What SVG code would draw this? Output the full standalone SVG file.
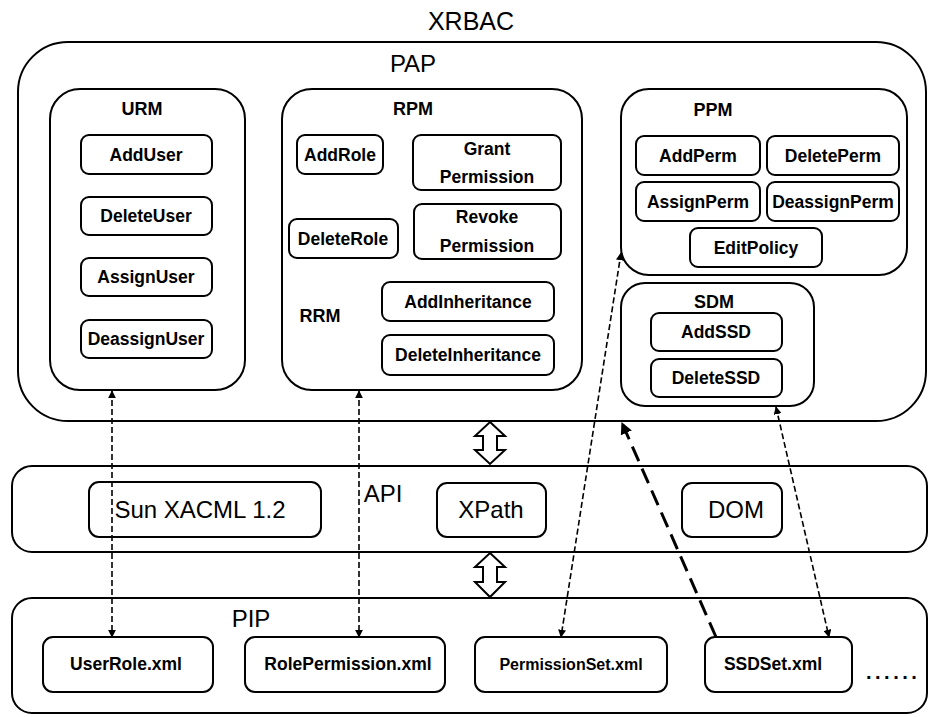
<svg xmlns="http://www.w3.org/2000/svg" width="928" height="717" viewBox="0 0 928 717">
<defs>
<style>
.big{fill:none;stroke:#000;stroke-width:2}
.mod{fill:#fff;stroke:#000;stroke-width:2}
.box{fill:#fff;stroke:#000;stroke-width:2}
.t{font-family:"Liberation Sans",Arial,sans-serif;font-weight:bold;font-size:17.5px;text-anchor:middle;fill:#000}
.h{font-family:"Liberation Sans",Arial,sans-serif;font-weight:bold;font-size:18px;text-anchor:middle;fill:#000}
.n{font-family:"Liberation Sans",Arial,sans-serif;font-size:24px;text-anchor:middle;fill:#000}
.dash{fill:none;stroke:#000;stroke-width:1.6;stroke-dasharray:6 3}
.ldash{fill:none;stroke:#000;stroke-width:3;stroke-dasharray:16 8}
.hollow{fill:#fff;stroke:#000;stroke-width:2;stroke-linejoin:miter}
</style>
<marker id="ah" viewBox="0 0 10 10" refX="9" refY="5" markerWidth="8" markerHeight="8" markerUnits="userSpaceOnUse" orient="auto-start-reverse">
<path d="M0,0 L10,5 L0,10 z" fill="#000"/>
</marker>
<marker id="ahL" viewBox="0 0 10 10" refX="9" refY="5" markerWidth="12" markerHeight="12" markerUnits="userSpaceOnUse" orient="auto-start-reverse">
<path d="M0,0 L10,5 L0,10 z" fill="#000"/>
</marker>
</defs>
<rect width="928" height="717" fill="#fff"/>

<text class="n" x="471" y="30" style="font-size:25px">XRBAC</text>

<g id="PAP">
<rect class="big" x="18" y="42" width="908" height="379" rx="50"/>
<text class="n" x="413" y="72">PAP</text>
</g>

<g id="URM">
<rect class="mod" x="50" y="89" width="195" height="301" rx="30"/>
<text class="h" x="142" y="115">URM</text>
</g>
<g id="AddUser"><rect class="box" x="81" y="135" width="131" height="39" rx="8"/><text class="t" x="146" y="161">AddUser</text></g>
<g id="DeleteUser"><rect class="box" x="81" y="197" width="131" height="38" rx="8"/><text class="t" x="146" y="222">DeleteUser</text></g>
<g id="AssignUser"><rect class="box" x="81" y="258" width="131" height="38" rx="8"/><text class="t" x="146" y="283">AssignUser</text></g>
<g id="DeassignUser"><rect class="box" x="81" y="320" width="131" height="38" rx="8"/><text class="t" x="146" y="345">DeassignUser</text></g>

<g id="RPM">
<rect class="mod" x="282" y="89" width="300" height="301" rx="30"/>
<text class="h" x="413" y="115">RPM</text>
<text class="h" x="320" y="322">RRM</text>
</g>
<g id="AddRole"><rect class="box" x="297" y="135" width="86" height="39" rx="8"/><text class="t" x="340" y="161">AddRole</text></g>
<g id="GrantPermission"><rect class="box" x="413" y="135" width="148" height="55" rx="8"/><text class="t" x="487" y="155">Grant</text><text class="t" x="487" y="183">Permission</text></g>
<g id="DeleteRole"><rect class="box" x="289" y="219" width="109" height="39" rx="8"/><text class="t" x="343" y="245">DeleteRole</text></g>
<g id="RevokePermission"><rect class="box" x="414" y="204" width="147" height="55" rx="8"/><text class="t" x="487" y="223">Revoke</text><text class="t" x="487" y="252">Permission</text></g>
<g id="AddInheritance"><rect class="box" x="382" y="282" width="172" height="39" rx="8"/><text class="t" x="468" y="308">AddInheritance</text></g>
<g id="DeleteInheritance"><rect class="box" x="382" y="335" width="172" height="40" rx="8"/><text class="t" x="468" y="361">DeleteInheritance</text></g>

<g id="PPM">
<rect class="mod" x="621" y="89" width="286" height="186" rx="28"/>
<text class="h" x="713" y="116">PPM</text>
</g>
<g id="AddPerm"><rect class="box" x="636" y="136" width="124" height="39" rx="8"/><text class="t" x="698" y="162">AddPerm</text></g>
<g id="DeletePerm"><rect class="box" x="767" y="136" width="132" height="39" rx="8"/><text class="t" x="833" y="162">DeletePerm</text></g>
<g id="AssignPerm"><rect class="box" x="636" y="182" width="124" height="39" rx="8"/><text class="t" x="698" y="208">AssignPerm</text></g>
<g id="DeassignPerm"><rect class="box" x="767" y="182" width="132" height="39" rx="8"/><text class="t" x="833" y="208">DeassignPerm</text></g>
<g id="EditPolicy"><rect class="box" x="690" y="228" width="132" height="39" rx="8"/><text class="t" x="756" y="254">EditPolicy</text></g>

<g id="SDM">
<rect class="mod" x="621" y="283" width="193" height="123" rx="24"/>
<text class="h" x="714" y="308">SDM</text>
</g>
<g id="AddSSD"><rect class="box" x="651" y="313" width="131" height="38" rx="8"/><text class="t" x="716" y="338">AddSSD</text></g>
<g id="DeleteSSD"><rect class="box" x="651" y="359" width="131" height="38" rx="8"/><text class="t" x="716" y="384">DeleteSSD</text></g>

<g id="API">
<rect class="big" x="12" y="466" width="915" height="86" rx="20"/>
<text class="n" x="383" y="502">API</text>
</g>
<g id="SunXACML"><rect class="box" x="89" y="482" width="232" height="55" rx="10"/><text class="n" x="200" y="518">Sun XACML 1.2</text></g>
<g id="XPath"><rect class="box" x="437" y="483" width="109" height="54" rx="10"/><text class="n" x="491" y="518">XPath</text></g>
<g id="DOM"><rect class="box" x="682" y="483" width="100" height="54" rx="10"/><text class="n" x="736" y="518">DOM</text></g>

<g id="PIP">
<rect class="big" x="12" y="598" width="915" height="115" rx="20"/>
<text class="n" x="251" y="627">PIP</text>
<text x="866" y="679" style="font-family:'Liberation Sans',Arial,sans-serif;font-weight:bold;font-size:20px;letter-spacing:3.5px">......</text>
</g>
<g id="UserRole"><rect class="box" x="43" y="637" width="170" height="55" rx="10"/><text class="t" x="126" y="670">UserRole.xml</text></g>
<g id="RolePermission"><rect class="box" x="245" y="637" width="200" height="55" rx="10"/><text class="t" x="348" y="670">RolePermission.xml</text></g>
<g id="PermissionSet"><rect class="box" x="475" y="637" width="192" height="55" rx="10"/><text class="t" x="571" y="670" style="font-size:16px">PermissionSet.xml</text></g>
<g id="SSDSet"><rect class="box" x="705" y="637" width="147" height="55" rx="10"/><text class="t" x="773" y="670">SSDSet.xml</text></g>

<g id="connectors">
<path class="hollow" d="M490,422 L505,436 L497,436 L497,450 L505,450 L490,464 L475,450 L483,450 L483,436 L475,436 Z"/>
<path class="hollow" d="M490,553 L505,567 L497,567 L497,582 L505,582 L490,597 L475,582 L483,582 L483,567 L475,567 Z"/>
<line class="dash" x1="112" y1="391" x2="112" y2="637" marker-start="url(#ah)" marker-end="url(#ah)"/>
<line class="dash" x1="359" y1="391" x2="359" y2="637" marker-start="url(#ah)" marker-end="url(#ah)"/>
<line class="dash" x1="621" y1="253" x2="561" y2="637" marker-start="url(#ah)" marker-end="url(#ah)"/>
<line class="dash" x1="776" y1="407" x2="829" y2="637" marker-start="url(#ah)" marker-end="url(#ah)"/>
<line class="ldash" x1="716" y1="637" x2="622" y2="423" marker-end="url(#ahL)"/>
</g>
</svg>
